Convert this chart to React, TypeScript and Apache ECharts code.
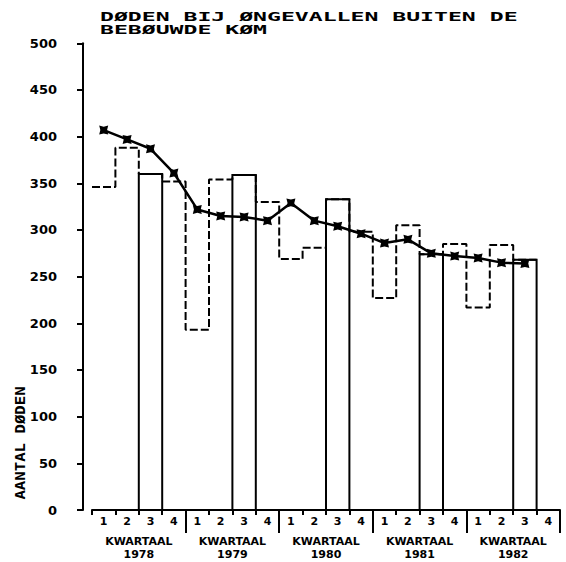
import React, { useEffect, useRef } from "react";
import * as echarts from "echarts";

const years = ["1978", "1979", "1980", "1981", "1982"];
const quarterLabels = ["1", "2", "3", "4"];
// quarterly deaths, 1978 Q1 .. 1982 Q3
const quarterlyDeaths = [346, 388, 360, 352, 193, 354, 359, 330, 269, 281, 333, 298, 227, 305, 274, 285, 217, 284, 268];
// moving average (marked line)
const movingAverage = [407, 397, 387, 361, 322, 315, 314, 310, 329, 310, 304, 296, 286, 290, 275, 272, 270, 265, 264];
const yTickValues = [0, 50, 100, 150, 200, 250, 300, 350, 400, 450, 500];
const titleLines = ["DØDEN BIJ ØNGEVALLEN BUITEN DE", "BEBØUWDE KØM"];
const yAxisTitle = "AANTAL DØDEN";
const quarterWord = "KWARTAAL";

export default function App() {
  const ref = useRef<HTMLDivElement>(null);
  useEffect(() => {
    if (!ref.current) return;
    const chart = echarts.init(ref.current, null, { renderer: "svg" });
    const nQ = years.length * quarterLabels.length;

    const stepData: number[][] = [];
    quarterlyDeaths.forEach((v, i) => {
      stepData.push([i, v]);
      stepData.push([i + 1, v]);
    });
    const q3Bars = quarterlyDeaths
      .map((v, i) => [i, v])
      .filter((d) => d[0] % 4 === 2);
    const avgData = movingAverage.map((v, i) => [i + 0.5, v]);

    const quarterTicks: number[] = [];
    const quarterCenters: number[] = [];
    for (let i = 0; i < nQ; i++) {
      if (i % 4 !== 0 || i === 0) quarterTicks.push(i);
      quarterCenters.push(i + 0.5);
    }
    const yearTicks = years.map((_, k) => (k + 1) * 4);
    const yearCenters = years.map((_, k) => k * 4 + 2);

    const font = "DejaVu Sans";
    const black = "#000";

    chart.setOption({
      animation: false,
      backgroundColor: "#fff",
      grid: { left: 92, right: 6, top: 43.3, bottom: 52, containLabel: false },
      xAxis: [
        {
          type: "value",
          min: 0,
          max: nQ,
          position: "bottom",
          axisLine: { show: true, onZero: false, lineStyle: { color: black, width: 2 } },
          axisTick: { show: true, customValues: quarterTicks, length: 5, lineStyle: { color: black, width: 2 } },
          axisLabel: {
            customValues: quarterCenters,
            formatter: (v: number) => quarterLabels[Math.floor(v) % 4],
            margin: 6,
            color: black,
            fontFamily: font,
            fontWeight: "bold",
            fontSize: 11,
          },
          splitLine: { show: false },
        },
        {
          type: "value",
          min: 0,
          max: nQ,
          position: "bottom",
          axisLine: { show: false, onZero: false },
          axisTick: { show: true, customValues: yearTicks, length: 23, lineStyle: { color: black, width: 2 } },
          axisLabel: {
            customValues: yearCenters,
            formatter: (v: number) => quarterWord + "\n" + years[Math.floor(v / 4)],
            margin: 25,
            lineHeight: 13,
            color: black,
            fontFamily: font,
            fontWeight: "bold",
            fontSize: 11,
          },
          splitLine: { show: false },
        },
      ],
      yAxis: {
        type: "value",
        min: yTickValues[0],
        max: yTickValues[yTickValues.length - 1],
        interval: 50,
        offset: 9,
        axisLine: { show: true, onZero: false, lineStyle: { color: black, width: 2 } },
        axisTick: { show: true, length: 6, lineStyle: { color: black, width: 2 } },
        axisLabel: {
          color: black,
          fontFamily: font,
          fontWeight: "bold",
          fontSize: 13,
          margin: 26,
          padding: [0, 0, 6, 0],
        },
        splitLine: { show: false },
      },
      graphic: [
        {
          type: "text",
          x: 100,
          y: 10.3,
          scaleX: 1.78,
          z: 100,
          style: {
            text: titleLines.join("\n"),
            font: 'bold 13px "DejaVu Sans Mono"',
            fill: black,
            lineHeight: 12.5,
            verticalAlign: "top",
            align: "left",
          },
        },
        {
          type: "text",
          x: 20,
          y: 443,
          rotation: Math.PI / 2,
          scaleX: 1.12,
          z: 100,
          style: {
            text: yAxisTitle,
            font: 'bold 14px "DejaVu Sans Mono"',
            fill: black,
            align: "center",
            verticalAlign: "middle",
          },
        },
      ],
      series: [
        {
          type: "line",
          name: "kwartaal",
          xAxisIndex: 0,
          data: stepData,
          symbol: "none",
          lineStyle: { color: black, width: 2, type: [8, 3] },
          z: 2,
        },
        {
          type: "custom",
          name: "kwartaal3",
          xAxisIndex: 0,
          data: q3Bars,
          encode: { x: 0, y: 1 },
          renderItem: (params: any, api: any) => {
            const i = api.value(0);
            const v = api.value(1);
            const p1 = api.coord([i, v]);
            const p0 = api.coord([i + 1, 0]);
            return {
              type: "rect",
              shape: { x: p1[0], y: p1[1], width: p0[0] - p1[0], height: p0[1] - p1[1] },
              style: { fill: "none", stroke: black, lineWidth: 2 },
            };
          },
          z: 3,
        },
        {
          type: "line",
          name: "gemiddelde",
          xAxisIndex: 0,
          data: avgData,
          symbol: "path://M0,0L4,1L8,0L7,4L8,8L4,7L0,8L1,4Z",
          symbolSize: 9,
          itemStyle: { color: black },
          lineStyle: { color: black, width: 2.5 },
          z: 5,
        },
      ],
    });
    return () => chart.dispose();
  }, []);
  return (
    <div
      ref={ref}
      style={{ position: "fixed", left: 0, top: 0, width: 566, height: 562, background: "#fff" }}
    />
  );
}
